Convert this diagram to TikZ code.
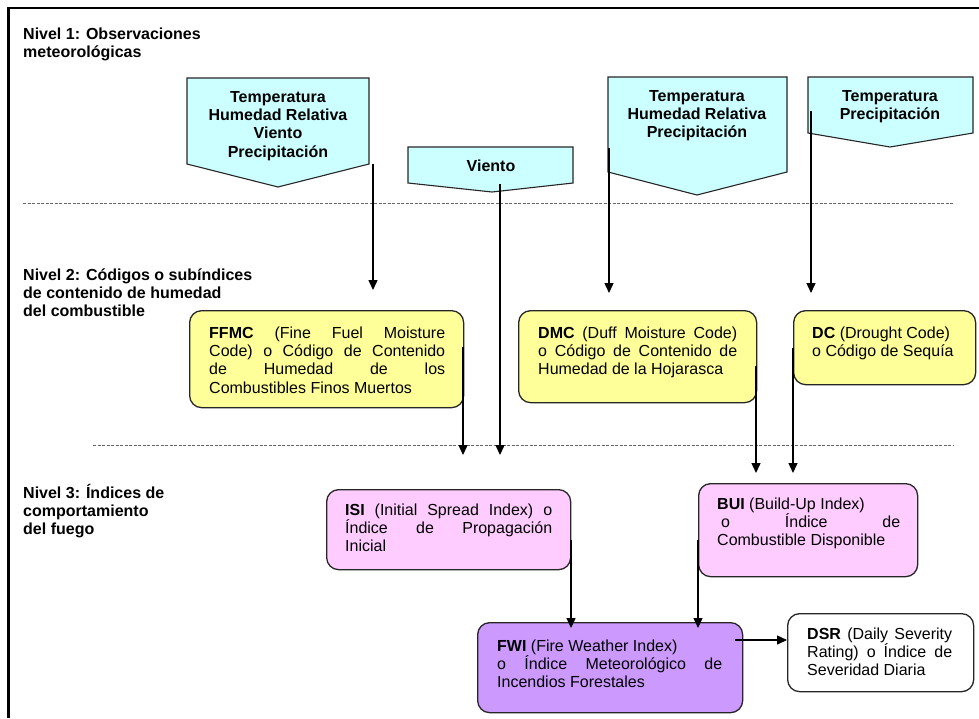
\documentclass[tikz,border=0pt]{standalone}
\usepackage{fontspec}
\setmainfont{Liberation Sans}
\usetikzlibrary{arrows.meta,calc}
\definecolor{cyanfill}{HTML}{CCFFFF}
\definecolor{yfill}{HTML}{FFFF99}
\definecolor{pfill}{HTML}{FFCCFF}
\definecolor{vfill}{HTML}{CC99FF}
\begin{document}
\begin{tikzpicture}[x=1pt,y=-1pt,
  every node/.style={inner sep=0pt, font=\fontsize{16pt}{18.4pt}\selectfont},
  callout/.style={draw=black!85, line width=1.1pt, fill=cyanfill},
  rbox/.style={draw=black!85, line width=1.3pt, rounded corners=12pt, anchor=north west},
  txt/.style={anchor=base west},
  head/.style={anchor=base west, font=\fontsize{16pt}{18.4pt}\selectfont\bfseries},
  ctext/.style={anchor=base, font=\fontsize{16pt}{18.4pt}\selectfont\bfseries},
  arr/.style={line width=1.4pt, -{Triangle[width=9pt,length=10pt]}},
  sepline/.style={draw=black!60, line width=0.8pt, dash pattern=on 3pt off 1.5pt},
]
\useasboundingbox (0,0) rectangle (979,718);
% frame
\draw[line width=2.5pt] (8.5,718) -- (8.5,8) -- (979,8);

% headings
\node[head] (n1) at (23,39.3) {\parbox[t]{300pt}{Nivel 1: Observaciones\\meteorológicas}};
\node[head] (n2) at (23,280) {\parbox[t]{300pt}{Nivel 2: Códigos o subíndices\\de contenido de humedad\\del combustible}};
\node[head] (n3) at (23,498) {\parbox[t]{300pt}{Nivel 3: Índices de\\comportamiento\\del fuego}};

% separators
\draw[sepline] (23,203) -- (953,203);
\draw[sepline] (93,445) -- (953,445);

% callouts
\draw[callout] (187,78) -- (369,78) -- (369,164) -- (278,187) -- (187,164) -- cycle;
\draw[callout] (408,147) -- (573,147) -- (573,183) -- (492,192) -- (408,183) -- cycle;
\draw[callout] (608,77) -- (787,77) -- (787,172) -- (697,195) -- (608,172) -- cycle;
\draw[callout] (808,77) -- (973,77) -- (973,133) -- (890,147) -- (808,133) -- cycle;

\node[ctext] (c1) at (278,102) {\parbox[t]{180pt}{\centering Temperatura\\Humedad Relativa\\Viento\\Precipitación}};
\node[ctext] (c2) at (491,171) {Viento};
\node[ctext] (c3) at (697,101) {\parbox[t]{178pt}{\centering Temperatura\\Humedad Relativa\\Precipitación}};
\node[ctext] (c4) at (890,101) {\parbox[t]{165pt}{\centering Temperatura\\Precipitación}};

% boxes
\node[rbox, fill=yfill, minimum width=274pt, minimum height=97pt] (ffmc) at (189,310) {};
\node[rbox, fill=yfill, minimum width=238pt, minimum height=92pt] (dmc) at (518,310) {};
\node[rbox, fill=yfill, minimum width=182pt, minimum height=74pt] (dc) at (793,310) {};
\node[rbox, fill=pfill, minimum width=244pt, minimum height=80pt] (isi) at (326,489) {};
\node[rbox, fill=pfill, minimum width=219pt, minimum height=93pt] (bui) at (698,483) {};
\node[rbox, fill=vfill, minimum width=265pt, minimum height=90pt] (fwi) at (477,622) {};
\node[rbox, fill=white, minimum width=186pt, minimum height=78pt] (dsr) at (787,613) {};

% box texts
\node[txt] (ffmct) at (209,338) {\parbox[t]{236pt}{%
\makebox[236pt][s]{\textbf{FFMC} (Fine Fuel Moisture}\\
\makebox[236pt][s]{Code) o Código de Contenido}\\
\makebox[236pt][s]{de Humedad de los}\\
Combustibles Finos Muertos}};
\node[txt] (dmct) at (538,338) {\parbox[t]{199pt}{%
\makebox[199pt][s]{\textbf{DMC} (Duff Moisture Code)}\\
\makebox[199pt][s]{o Código de Contenido de}\\
Humedad de la Hojarasca}};
\node[txt] (dct) at (812,338) {\parbox[t]{160pt}{%
\textbf{DC} (Drought Code)\\
o Código de Sequía}};
\node[txt] (isit) at (345,515) {\parbox[t]{207pt}{%
\makebox[207pt][s]{\textbf{ISI} (Initial Spread Index) o}\\
\makebox[207pt][s]{Índice de Propagación}\\
Inicial}};
\node[txt] (buit) at (717,509) {\parbox[t]{183pt}{%
\textbf{BUI} (Build-Up Index)\\
\makebox[183pt][s]{\hspace*{4pt}o Índice de}\\
Combustible Disponible}};
\node[txt] (fwit) at (497,651) {\parbox[t]{225pt}{%
\textbf{FWI} (Fire Weather Index)\\
\makebox[225pt][s]{o Índice Meteorológico de}\\
Incendios Forestales}};
\node[txt] (dsrt) at (807,639) {\parbox[t]{145pt}{%
\makebox[145pt][s]{\textbf{DSR} (Daily Severity}\\
\makebox[145pt][s]{Rating) o Índice de}\\
Severidad Diaria}};

% connectors
\coordinate (s1) at (373,164);
\coordinate (s2) at (500,184);
\coordinate (s3) at (609,148);
\coordinate (s4) at (811,111);
\coordinate (s5) at (463,347);
\coordinate (s6) at (756,366);
\coordinate (s7) at (793,348);
\coordinate (s8) at (571,540);
\coordinate (s9) at (698,540);
\coordinate (s10) at (735,640);
\draw[arr, shorten >=20pt] (s1) -- (s1 |- ffmc.north);
\draw[arr, shorten >=34pt] (s2) -- (s2 |- isi.north);
\draw[arr, shorten >=17pt] (s3) -- (s3 |- dmc.north);
\draw[arr, shorten >=17pt] (s4) -- (s4 |- dc.north);
\draw[arr, shorten >=34pt] (s5) -- (s5 |- isi.north);
\draw[arr, shorten >=10pt] (s6) -- (s6 |- bui.north);
\draw[arr, shorten >=10pt] (s7) -- (s7 |- bui.north);
\draw[arr, shorten >=-6pt] (s8) -- (s8 |- fwi.north);
\draw[arr, shorten >=-6pt] (s9) -- (s9 |- fwi.north);
\draw[arr] (s10) -- (s10 -| dsr.west);
\end{tikzpicture}
\end{document}
